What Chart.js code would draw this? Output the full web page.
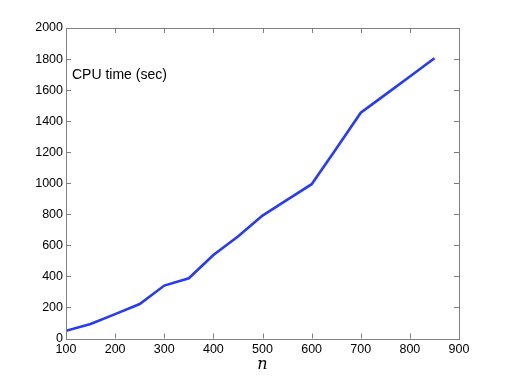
<!DOCTYPE html>
<html>
<head>
<meta charset="utf-8">
<script src="https://cdn.jsdelivr.net/npm/chart.js@4"></script>
<style>
  html, body { margin: 0; padding: 0; background: #fff; }
  #wrap { width: 507px; height: 382px; }
</style>
</head>
<body>
<div id="wrap"><canvas id="cpuChart" width="507" height="382"></canvas></div>
<script>
// données
const sizes = [100, 150, 200, 250, 300, 350, 400, 450, 500, 550, 600, 650, 700, 750, 800, 850];
const cpuTimes = [50, 93, 157, 222, 341, 388, 538, 657, 792, 893, 994, 1222, 1454, 1571, 1688, 1805];
const xTicks = [100, 200, 300, 400, 500, 600, 700, 800, 900];
const yTicks = [0, 200, 400, 600, 800, 1000, 1200, 1400, 1600, 1800, 2000];
const noteText = 'CPU time (sec)';

const axisGrey = '#7f7f7f';
const tickFont = { family: 'Liberation Sans, Arial, sans-serif', size: 12.5 };

// cadre + graduations vers l'intérieur, façon matlab
const boxPlugin = {
  id: 'boxTicks',
  afterDraw(chart) {
    const ctx = chart.ctx;
    const a = chart.chartArea;
    const xs = chart.scales.x, ys = chart.scales.y;
    const len = 5;
    ctx.save();
    ctx.strokeStyle = axisGrey;
    ctx.lineWidth = 1;
    ctx.strokeRect(Math.round(a.left) + 0.5, Math.round(a.top) + 0.5,
      Math.round(a.right - a.left), Math.round(a.bottom - a.top));
    ctx.beginPath();
    xTicks.forEach(v => {
      const px = Math.round(xs.getPixelForValue(v)) + 0.5;
      ctx.moveTo(px, a.bottom); ctx.lineTo(px, a.bottom - len);
      ctx.moveTo(px, a.top); ctx.lineTo(px, a.top + len);
    });
    yTicks.forEach(v => {
      const py = Math.round(ys.getPixelForValue(v)) + 0.5;
      ctx.moveTo(a.left, py); ctx.lineTo(a.left + len, py);
      ctx.moveTo(a.right, py); ctx.lineTo(a.right - len, py);
    });
    ctx.stroke();
    // annotation dans le graphe
    ctx.fillStyle = '#000';
    ctx.font = '14px "Liberation Sans", Arial, sans-serif';
    ctx.textBaseline = 'middle';
    ctx.fillText(noteText, a.left + 6, a.top + 47.5);
    ctx.restore();
  }
};

const ctx = document.getElementById('cpuChart').getContext('2d');
new Chart(ctx, {
  type: 'line',
  data: {
    datasets: [{
      data: sizes.map((n, i) => ({ x: n, y: cpuTimes[i] })),
      borderColor: 'rgb(38, 58, 250)',
      borderWidth: 2.6,
      pointRadius: 0,
      tension: 0,
      fill: false
    }]
  },
  options: {
    responsive: false,
    animation: false,
    layout: { padding: { left: 0, top: 28, right: 48, bottom: 8 } },
    plugins: { legend: { display: false }, tooltip: { enabled: false } },
    scales: {
      x: {
        type: 'linear',
        min: 100, max: 900,
        afterBuildTicks: s => { s.ticks = xTicks.map(v => ({ value: v })); },
        afterFit: s => { s.height = 35.5; },
        grid: { display: false, drawTicks: false },
        border: { display: false },
        ticks: { color: '#000', font: tickFont, padding: 4, maxRotation: 0, callback: v => String(v) },
        title: {
          display: true, text: 'n', color: '#000', padding: { top: 0, bottom: 0 },
          font: { family: 'DejaVu Serif, Liberation Serif, serif', size: 16, style: 'italic' }
        }
      },
      y: {
        min: 0, max: 2000,
        afterBuildTicks: s => { s.ticks = yTicks.map(v => ({ value: v })); },
        afterFit: s => { s.width = 66; },
        grid: { display: false, drawTicks: false },
        border: { display: false },
        ticks: { color: '#000', font: tickFont, padding: 3, callback: v => String(v) }
      }
    }
  },
  plugins: [boxPlugin]
});
</script>
</body>
</html>
